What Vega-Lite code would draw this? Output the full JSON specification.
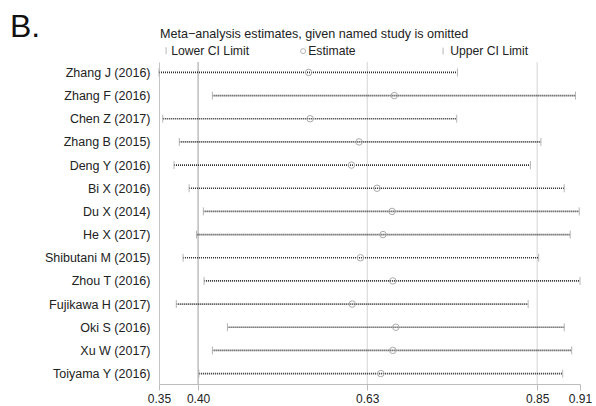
{
  "$schema": "https://vega.github.io/schema/vega-lite/v6.json",
  "width": 421,
  "height": 322,
  "autosize": "none",
  "padding": {"left": 159, "top": 62, "right": 16, "bottom": 22},
  "background": "white",
  "title": {"text": "B.", "anchor": "start", "frame": "group", "fontSize": 32, "font": "Liberation Sans", "fontWeight": "normal", "color": "#111111", "dx": -149, "dy": 20},
  "config": {
    "font": "Liberation Sans",
    "view": {"stroke": null},
    "legend": {"labelFont": "Liberation Sans", "titleFont": "Liberation Sans", "labelFontSize": 12.2, "titleFontSize": 12.6, "labelColor": "#222222", "titleColor": "#222222", "titleFontWeight": "normal", "titleLimit": 500, "labelLimit": 300}
  },
  "datasets": {
    "studies": [
      {"study": "Zhang J (2016)", "Lower CI Limit": 0.350, "Estimate": 0.549, "Upper CI Limit": 0.747},
      {"study": "Zhang F (2016)", "Lower CI Limit": 0.421, "Estimate": 0.663, "Upper CI Limit": 0.904},
      {"study": "Chen Z (2017)", "Lower CI Limit": 0.355, "Estimate": 0.551, "Upper CI Limit": 0.746},
      {"study": "Zhang B (2015)", "Lower CI Limit": 0.377, "Estimate": 0.616, "Upper CI Limit": 0.858},
      {"study": "Deng Y (2016)", "Lower CI Limit": 0.370, "Estimate": 0.606, "Upper CI Limit": 0.844},
      {"study": "Bi X (2016)", "Lower CI Limit": 0.390, "Estimate": 0.640, "Upper CI Limit": 0.889},
      {"study": "Du X (2014)", "Lower CI Limit": 0.409, "Estimate": 0.660, "Upper CI Limit": 0.909},
      {"study": "He X (2017)", "Lower CI Limit": 0.400, "Estimate": 0.648, "Upper CI Limit": 0.897},
      {"study": "Shibutani M (2015)", "Lower CI Limit": 0.382, "Estimate": 0.618, "Upper CI Limit": 0.855},
      {"study": "Zhou T (2016)", "Lower CI Limit": 0.410, "Estimate": 0.661, "Upper CI Limit": 0.910},
      {"study": "Fujikawa H (2017)", "Lower CI Limit": 0.373, "Estimate": 0.607, "Upper CI Limit": 0.841},
      {"study": "Oki S (2016)", "Lower CI Limit": 0.441, "Estimate": 0.665, "Upper CI Limit": 0.889},
      {"study": "Xu W (2017)", "Lower CI Limit": 0.421, "Estimate": 0.661, "Upper CI Limit": 0.899},
      {"study": "Toiyama Y (2016)", "Lower CI Limit": 0.403, "Estimate": 0.645, "Upper CI Limit": 0.887}
    ],
    "refs": [
      {"name": "lower", "value": 0.402},
      {"name": "estimate", "value": 0.627},
      {"name": "upper", "value": 0.853}
    ]
  },
  "resolve": {"scale": {"shape": "independent", "color": "independent"}},
  "layer": [
    {
      "data": {"name": "refs"},
      "mark": {"type": "rule", "strokeWidth": 1},
      "encoding": {
        "x": {
          "field": "value", "type": "quantitative",
          "scale": {"domain": [0.35, 0.91], "nice": false, "zero": false},
          "axis": {
            "title": null, "grid": false, "values": [0.35, 0.402, 0.627, 0.853, 0.91], "format": ".2f",
            "domainColor": "#bdbdbd", "tickColor": "#bdbdbd", "tickSize": 6, "labelPadding": 3,
            "labelFontSize": 12, "labelColor": "#222222", "labelFont": "Liberation Sans", "labelFlush": false
          }
        },
        "color": {"field": "name", "type": "nominal", "scale": {"domain": ["lower", "estimate", "upper"], "range": ["#9e9e9e", "#d4d4d4", "#d4d4d4"]}, "legend": null}
      }
    },
    {
      "data": {"name": "studies"},
      "mark": {"type": "rule", "color": "#2a2a2a", "strokeWidth": 1.6, "strokeDash": [1, 1]},
      "encoding": {
        "y": {
          "field": "study", "type": "nominal", "sort": null,
          "scale": {"type": "point", "padding": 0.45},
          "axis": {"title": null, "ticks": false, "domainColor": "#c4c4c4", "labelPadding": 9, "labelFontSize": 12.5, "labelColor": "#222222", "labelFont": "Liberation Sans", "grid": false}
        },
        "x": {"field": "Lower CI Limit", "type": "quantitative"},
        "x2": {"field": "Upper CI Limit"}
      }
    },
    {
      "data": {"name": "studies"},
      "mark": {"type": "point", "filled": false, "stroke": "#b5b5b5", "strokeWidth": 1, "size": 4, "opacity": 1},
      "encoding": {
        "y": {"field": "study", "type": "nominal", "sort": null},
        "x": {"field": "Lower CI Limit", "type": "quantitative"},
        "shape": {"datum": "Lower CI Limit", "scale": {"range": ["M0,-4L0,4"]},
          "legend": {"orient": "none", "legendX": 1, "legendY": -34, "title": "Meta−analysis estimates, given named study is omitted", "titlePadding": 4, "symbolSize": 3, "symbolStrokeColor": "#b5b5b5", "symbolStrokeWidth": 1, "labelOffset": -1}}
      }
    },
    {
      "data": {"name": "studies"},
      "mark": {"type": "point", "filled": false, "stroke": "#b5b5b5", "strokeWidth": 1, "size": 4, "opacity": 1},
      "encoding": {
        "y": {"field": "study", "type": "nominal", "sort": null},
        "x": {"field": "Upper CI Limit", "type": "quantitative"},
        "shape": {"datum": "Upper CI Limit", "scale": {"range": ["M0,-4L0,4"]},
          "legend": {"orient": "none", "legendX": 278, "legendY": -17, "title": null, "symbolSize": 3, "symbolStrokeColor": "#b5b5b5", "symbolStrokeWidth": 1, "labelOffset": 1}}
      }
    },
    {
      "data": {"name": "studies"},
      "mark": {"type": "point", "filled": false, "stroke": "#ababab", "strokeWidth": 1, "size": 42, "opacity": 1},
      "encoding": {
        "y": {"field": "study", "type": "nominal", "sort": null},
        "x": {"field": "Estimate", "type": "quantitative"},
        "shape": {"datum": "Estimate", "scale": {"range": ["circle"]},
          "legend": {"orient": "none", "legendX": 138, "legendY": -17, "title": null, "symbolSize": 25, "symbolStrokeColor": "#b5b5b5", "symbolStrokeWidth": 1, "labelOffset": -1}}
      }
    }
  ]
}
